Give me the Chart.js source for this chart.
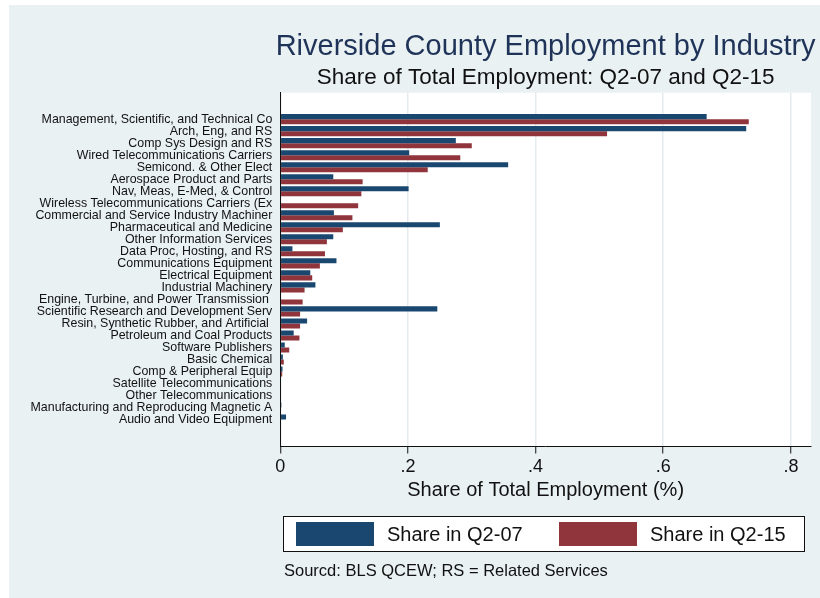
<!DOCTYPE html>
<html>
<head>
<meta charset="utf-8">
<title>Riverside County Employment by Industry</title>
<script src="https://cdn.jsdelivr.net/npm/chart.js@4.4.1/dist/chart.umd.min.js"></script>
<style>
  html, body { margin: 0; padding: 0; background: #fff; }
  #wrap { width: 820px; height: 598px; position: relative; }
</style>
</head>
<body>
<div id="wrap"><canvas id="chart"></canvas></div>
<script>
// industries, top to bottom as in the figure
var industries = [
    'Management, Scientific, and Technical Co',
    'Arch, Eng, and RS',
    'Comp Sys Design and RS',
    'Wired Telecommunications Carriers',
    'Semicond. & Other Elect',
    'Aerospace Product and Parts',
    'Nav, Meas, E-Med, & Control',
    'Wireless Telecommunications Carriers (Ex',
    'Commercial and Service Industry Machiner',
    'Pharmaceutical and Medicine',
    'Other Information Services',
    'Data Proc, Hosting, and RS',
    'Communications Equipment',
    'Electrical Equipment',
    'Industrial Machinery',
    'Engine, Turbine, and Power Transmission ',
    'Scientific Research and Development Serv',
    'Resin, Synthetic Rubber, and Artificial ',
    'Petroleum and Coal Products',
    'Software Publishers',
    'Basic Chemical',
    'Comp & Peripheral Equip',
    'Satellite Telecommunications',
    'Other Telecommunications',
    'Manufacturing and Reproducing Magnetic A',
    'Audio and Video Equipment'
];
var share07 = [0.668, 0.730, 0.275, 0.202, 0.357, 0.083, 0.201, 0, 0.084, 0.250,
               0.083, 0.019, 0.088, 0.047, 0.055, 0, 0.246, 0.042, 0.021, 0.007,
               0.004, 0.0035, 0, 0, 0.0017, 0.009];
var share15 = [0.734, 0.512, 0.300, 0.282, 0.231, 0.129, 0.127, 0.122, 0.113, 0.098,
               0.073, 0.070, 0.062, 0.050, 0.038, 0.035, 0.031, 0.031, 0.030, 0.014,
               0.0055, 0.003, 0, 0, 0, 0];
var seriesNames = ['Share in Q2-07', 'Share in Q2-15'];
var xTicks = [0, 0.2, 0.4, 0.6, 0.8];
var xTickLabels = ['0', '.2', '.4', '.6', '.8'];

var NAVY = '#1a476f';
var MAROON = '#90353b';
var BG = '#e9f1f3';
var FONT = '"Liberation Sans", Arial, Helvetica, sans-serif';

function points(values) {
    return values.map(function (v, i) { return { x: v, y: i }; });
}

// backgrounds: outer region and white plot region
var backdrop = {
    id: 'backdrop',
    beforeDraw: function (chart) {
        var ctx = chart.ctx, a = chart.chartArea;
        ctx.save();
        ctx.fillStyle = '#ffffff';
        ctx.fillRect(0, 0, chart.width, chart.height);
        ctx.fillStyle = BG;
        ctx.fillRect(9, 5, chart.width - 9, chart.height - 5);
        ctx.fillStyle = '#ffffff';
        ctx.fillRect(a.left, a.top, a.right - a.left, a.bottom - a.top);
        ctx.restore();
    }
};

// titles centred on plot, boxed legend and note
var decor = {
    id: 'decor',
    afterDraw: function (chart) {
        var ctx = chart.ctx, a = chart.chartArea;
        var cx = (a.left + a.right) / 2;
        ctx.save();
        ctx.textAlign = 'center';
        ctx.textBaseline = 'alphabetic';
        ctx.fillStyle = '#1f3358';
        ctx.font = '29px ' + FONT;
        ctx.fillText('Riverside County Employment by Industry', cx, 55);
        ctx.fillStyle = '#111';
        ctx.font = '22.5px ' + FONT;
        ctx.fillText('Share of Total Employment: Q2-07 and Q2-15', cx, 84);

        // legend
        var lx = 283, ly = 516, lw = 522, lh = 36;
        ctx.fillStyle = '#fff';
        ctx.fillRect(lx, ly, lw, lh);
        ctx.strokeStyle = '#111';
        ctx.lineWidth = 1;
        ctx.strokeRect(lx + 0.5, ly + 0.5, lw - 1, lh - 1);
        var items = chart.data.datasets;
        var swX = [296, 559];
        ctx.font = '20px ' + FONT;
        ctx.textAlign = 'left';
        ctx.textBaseline = 'middle';
        items.forEach(function (ds, i) {
            ctx.fillStyle = ds.backgroundColor;
            ctx.fillRect(swX[i], ly + 6, 78, lh - 12);
            ctx.fillStyle = '#111';
            ctx.fillText(ds.label, swX[i] + 91, ly + lh / 2 + 1);
        });

        ctx.font = '16.5px ' + FONT;
        ctx.fillText('Sourcd: BLS QCEW; RS = Related Services', 284, 571);
        ctx.restore();
    }
};

var ctx = document.getElementById('chart').getContext('2d');
new Chart(ctx, {
    type: 'bar',
    data: {
        datasets: [{
            label: seriesNames[0],
            data: points(share07),
            backgroundColor: NAVY,
            borderWidth: 0
        }, {
            label: seriesNames[1],
            data: points(share15),
            backgroundColor: MAROON,
            borderWidth: 0
        }]
    },
    options: {
        indexAxis: 'y',
        responsive: true,
        maintainAspectRatio: false,
        animation: false,
        devicePixelRatio: 1,
        layout: { padding: { top: 92.7, right: 9, bottom: 92, left: 0 } },
        datasets: { bar: { barPercentage: 1, categoryPercentage: 0.84 } },
        plugins: {
            legend: { display: false },
            title: { display: false },
            tooltip: { enabled: false }
        },
        scales: {
            x: {
                type: 'linear',
                min: 0,
                max: 0.8315,
                afterBuildTicks: function (s) {
                    s.ticks = xTicks.map(function (v) { return { value: v }; });
                },
                afterFit: function (s) { s.height = 60; },
                grid: {
                    color: '#e3ebef',
                    lineWidth: 1.5,
                    drawTicks: true,
                    tickLength: 7.5,
                    tickColor: '#111',
                    tickWidth: 1
                },
                border: { display: true, color: '#111', width: 1 },
                ticks: {
                    color: '#111',
                    padding: 3,
                    maxRotation: 0,
                    font: { family: FONT, size: 18 },
                    callback: function (v) {
                        var k = xTicks.indexOf(v);
                        return k >= 0 ? xTickLabels[k] : '';
                    }
                },
                title: {
                    display: true,
                    text: 'Share of Total Employment (%)',
                    color: '#111',
                    font: { family: FONT, size: 20 },
                    padding: { top: 0, bottom: 4 }
                }
            },
            y: {
                type: 'linear',
                reverse: true,
                offset: false,
                min: -2.2,
                max: 27.2,
                afterBuildTicks: function (s) {
                    s.ticks = industries.map(function (c, i) { return { value: i }; });
                },
                afterFit: function (s) { s.width = 280.3; },
                grid: { display: false, drawTicks: false },
                border: { display: true, color: '#111', width: 1 },
                ticks: {
                    autoSkip: false,
                    color: '#111',
                    padding: 8,
                    font: { family: FONT, size: 12.4 },
                    callback: function (v) { return industries[v]; }
                }
            }
        }
    },
    plugins: [backdrop, decor]
});
</script>
</body>
</html>
